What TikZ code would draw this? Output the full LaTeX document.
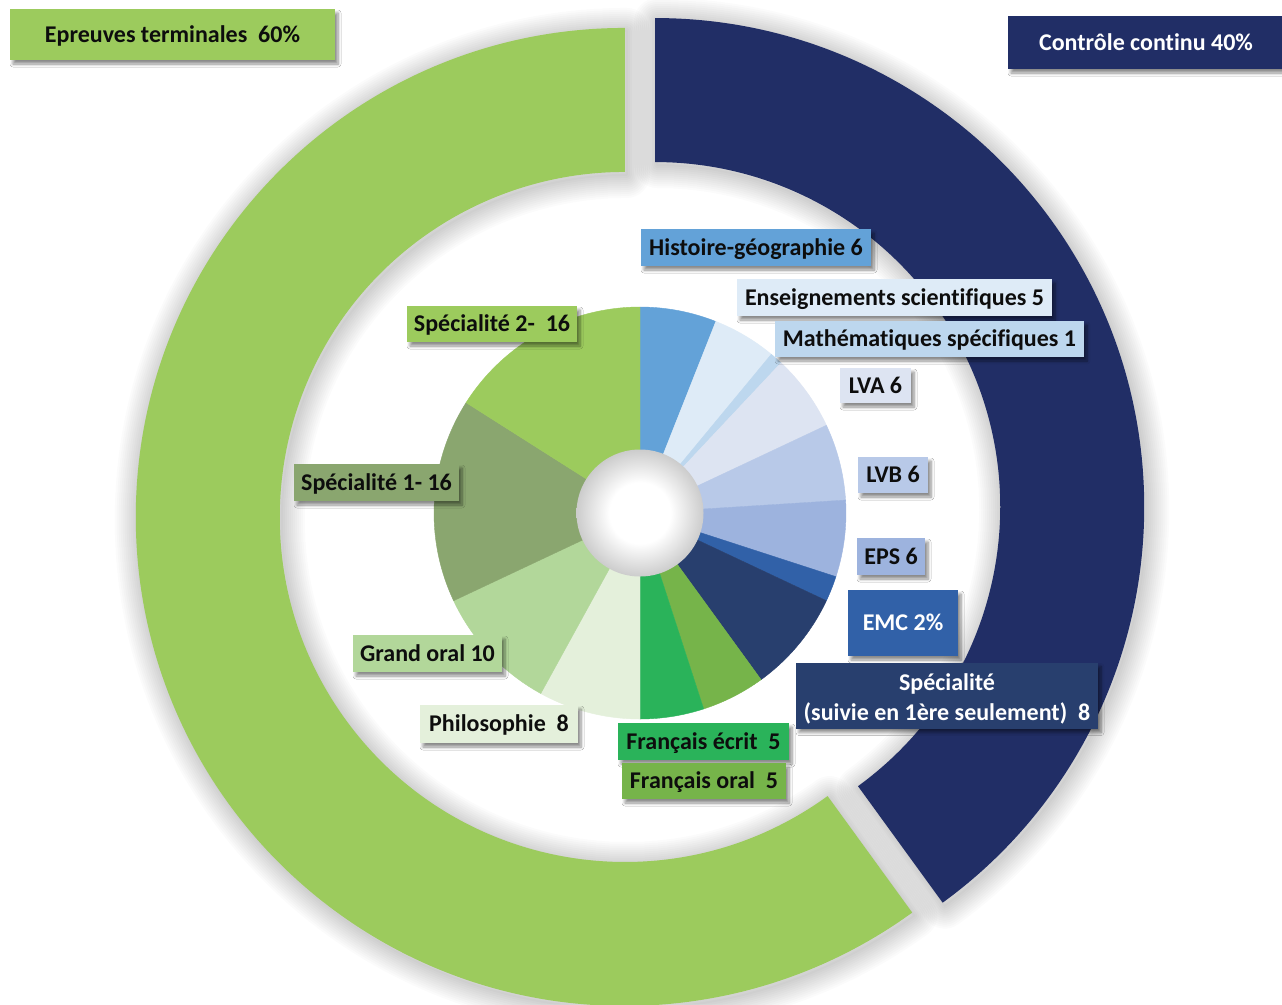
\documentclass[tikz,border=0pt]{standalone}
\usepackage{fontspec}
\setmainfont{Carlito}[Ligatures=NoCommon]
\usetikzlibrary{shadows.blur}
\definecolor{ringgreen}{HTML}{9CCB5D}
\definecolor{ringnavy}{HTML}{212E66}
\definecolor{hist}{HTML}{63A2D8}
\definecolor{enssci}{HTML}{DEEBF7}
\definecolor{maths}{HTML}{BDD7EE}
\definecolor{lva}{HTML}{DDE4F2}
\definecolor{lvb}{HTML}{B8C9E8}
\definecolor{eps}{HTML}{9DB3DE}
\definecolor{emc}{HTML}{3161A8}
\definecolor{spec}{HTML}{283F6E}
\definecolor{froral}{HTML}{76B44A}
\definecolor{frecrit}{HTML}{2AB35A}
\definecolor{philo}{HTML}{E4F0DB}
\definecolor{grandoral}{HTML}{B2D79A}
\definecolor{speA}{HTML}{8AA66F}
\definecolor{speB}{HTML}{9CCB5D}
\definecolor{txtdark}{HTML}{0D0D0D}
\pgfdeclareradialshading{holeshade}{\pgfpoint{0bp}{0bp}}{color(0bp)=(white); color(12bp)=(white); color(25bp)=(black!20); color(50bp)=(black!20)}
\tikzset{
  lblbase/.style={font=\fontsize{24}{30}\selectfont\bfseries, inner sep=0pt, text=txtdark, align=center,
    blur shadow={shadow xshift=3pt, shadow yshift=-4pt, shadow blur radius=3pt, shadow blur steps=6, shadow opacity=45}},
  lbl/.style={lblbase, text height=20pt, text depth=4.5pt},
  lblw/.style={lbl, text=white},
}
\begin{document}
\begin{tikzpicture}[x=1pt,y=1pt]
\useasboundingbox (0,0) rectangle (1282,-1004);
\clip (0,0) rectangle (1282,-1004);
\fill[white] (0,0) rectangle (1282,-1004);
% outer ring shadows
\begin{scope}[shift={(642pt,-515pt)}]
  \begin{scope}[shift={(198:16pt)}]
    \foreach \w in {2,6,...,46}
      \draw[black, opacity=0.014, line width=\w pt, line join=round]
        (90:489pt) arc[start angle=90, end angle=306, radius=489pt] -- (306:345pt) arc[start angle=306, end angle=90, radius=345pt] -- cycle;
  \end{scope}
  \begin{scope}[shift={(18:16pt)}]
    \foreach \w in {2,6,...,46}
      \draw[black, opacity=0.014, line width=\w pt, line join=round]
        (90:489pt) arc[start angle=90, end angle=-54, radius=489pt] -- (-54:345pt) arc[start angle=-54, end angle=90, radius=345pt] -- cycle;
  \end{scope}
\end{scope}
% outer ring
\begin{scope}[shift={(640pt,-512pt)}]
  \begin{scope}[shift={(198:16pt)}]
    \fill[ringgreen] (90:489pt) arc[start angle=90, end angle=306, radius=489pt] -- (306:345pt) arc[start angle=306, end angle=90, radius=345pt] -- cycle;
  \end{scope}
  \begin{scope}[shift={(18:16pt)}]
    \fill[ringnavy] (90:489pt) arc[start angle=90, end angle=-54, radius=489pt] -- (-54:345pt) arc[start angle=-54, end angle=90, radius=345pt] -- cycle;
  \end{scope}
\end{scope}
% inner pie
\begin{scope}[shift={(640pt,-513pt)}]
  \foreach \a/\b/\c in {90/68.4/hist, 68.4/50.4/enssci, 50.4/46.8/maths, 46.8/25.2/lva, 25.2/3.6/lvb, 3.6/-18/eps, -18/-25.2/emc, -25.2/-54/spec, -54/-72/froral, -72/-90/frecrit, -90/-118.8/philo, -118.8/-154.8/grandoral, -154.8/-212.4/speA, -212.4/-270/speB}
    \filldraw[fill=\c, draw=\c, line width=0.4pt] (0,0) -- (\a:206pt) arc[start angle=\a, end angle=\b, radius=206pt] -- cycle;
  \shade[shading=holeshade] (0,0) circle (63.5pt);
\end{scope}
% labels
\node[lbl, fill=ringgreen, minimum width=325pt, minimum height=51pt] (epreuves) at (172.5,-34.5) {Epreuves terminales~ 60\%};
\node[lblw, fill=ringnavy, minimum width=276pt, minimum height=53pt] (controle) at (1146,-42.5) {Contrôle continu 40\%};
\node[lbl, fill=hist, minimum width=230pt, minimum height=37pt] (histoire) at (756,-247.5) {Histoire-géographie 6};
\node[lbl, fill=enssci, minimum width=315pt, minimum height=37pt] (enssci) at (894.5,-297.5) {Enseignements scientifiques 5};
\node[lbl, fill=maths, minimum width=309pt, minimum height=36pt] (maths) at (929.5,-339) {Mathématiques spécifiques 1};
\node[lbl, fill=lva, minimum width=71pt, minimum height=35pt] (lva) at (875.5,-385.5) {LVA 6};
\node[lbl, fill=lvb, minimum width=70pt, minimum height=36pt] (lvb) at (893,-475) {LVB 6};
\node[lbl, fill=eps, minimum width=68pt, minimum height=37pt] (eps) at (891,-556.5) {EPS 6};
\node[lblw, fill=emc, minimum width=110pt, minimum height=66pt] (emc) at (903,-623) {EMC 2\%};
\node[lblbase, text=white, fill=spec, minimum width=302pt, minimum height=66pt] (spec) at (947,-695.5) {\rule{0pt}{24pt}Spécialité\\(suivie en 1ère seulement)~ 8};
\node[lbl, fill=frecrit, minimum width=171pt, minimum height=37pt] (frecrit) at (703.5,-741.5) {Français écrit~ 5};
\node[lbl, fill=froral, minimum width=164pt, minimum height=36pt] (froral) at (704,-781) {Français oral~ 5};
\node[lbl, fill=philo, minimum width=158pt, minimum height=38pt] (philo) at (499,-724) {Philosophie~ 8};
\node[lbl, fill=grandoral, minimum width=149pt, minimum height=37pt] (grandoral) at (427.5,-653.5) {Grand oral 10};
\node[lbl, fill=speA, minimum width=165pt, minimum height=37pt] (speA) at (376.5,-482.5) {Spécialité 1- 16};
\node[lbl, fill=speB, minimum width=170pt, minimum height=36pt] (speB) at (492,-324) {Spécialité 2-~ 16};
\end{tikzpicture}
\end{document}
